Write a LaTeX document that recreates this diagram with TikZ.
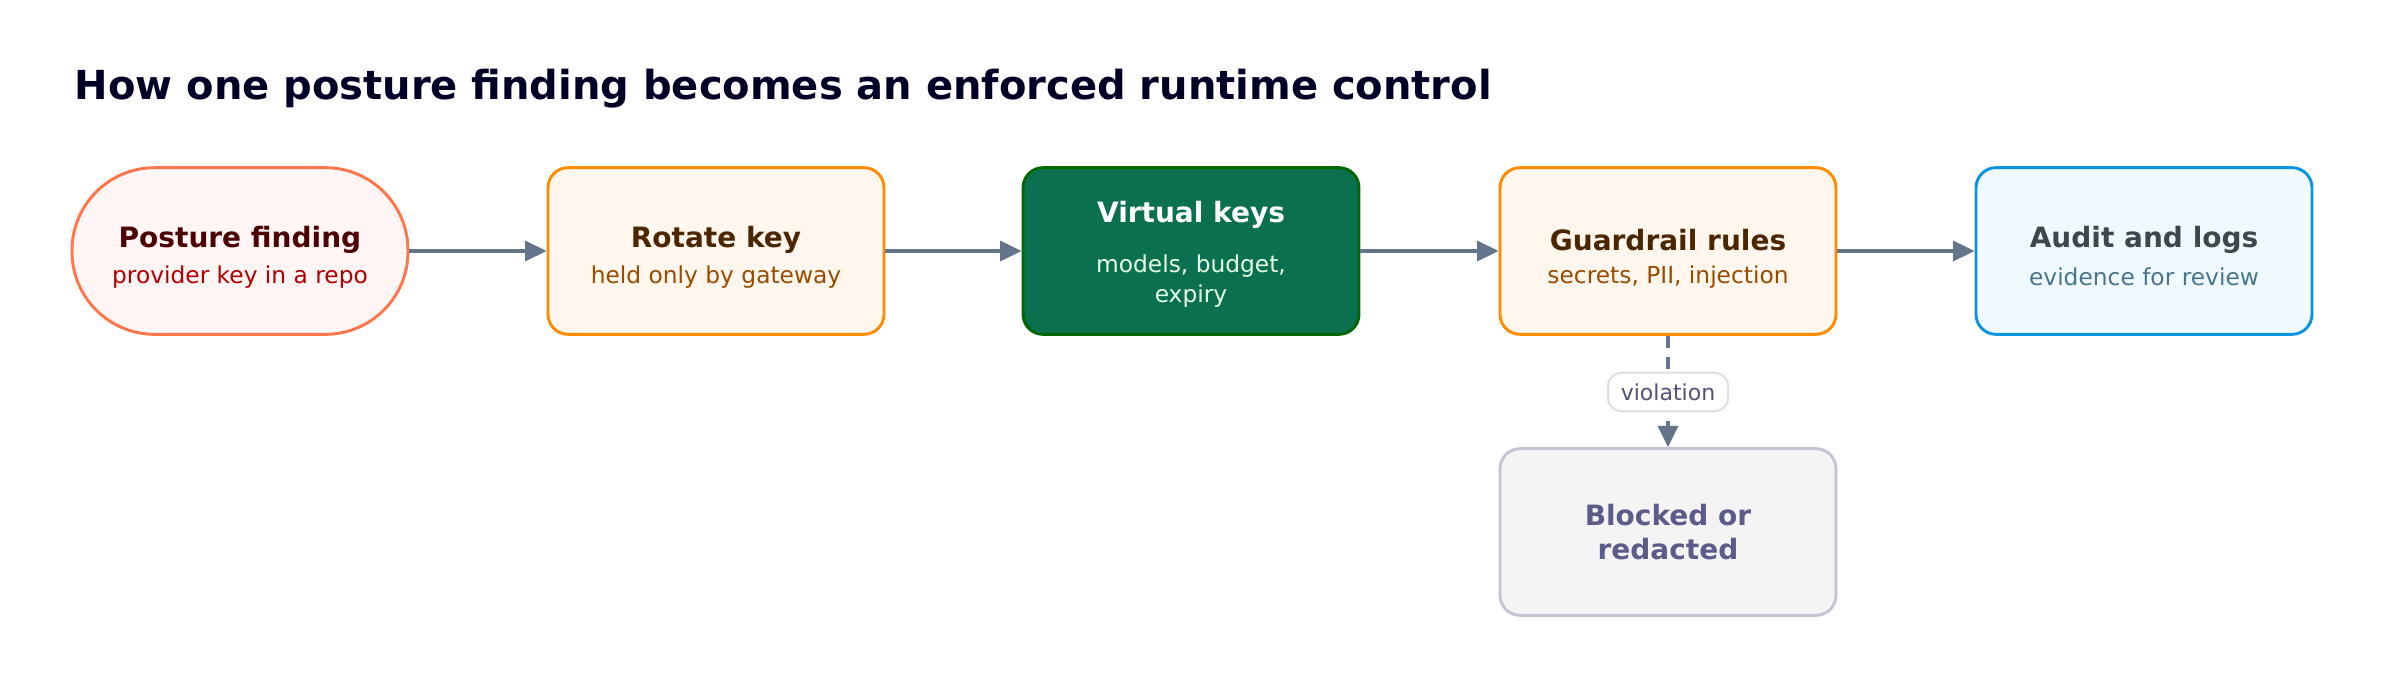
\documentclass[tikz,border=0pt]{standalone}
\usepackage{fontspec}
\setmainfont{DejaVu Sans}
\usetikzlibrary{arrows.meta}
\definecolor{arr}{HTML}{64748B}
\begin{document}
\begin{tikzpicture}[x=0.75pt,y=-0.75pt,
 box/.style={draw,line width=2.2pt,rounded corners=15pt,minimum width=252pt,minimum height=125pt,inner sep=0pt},
 ttl/.style={font=\bfseries\fontsize{21}{25}\selectfont},
 sub/.style={font=\fontsize{17.5}{23}\selectfont,align=center},
 con/.style={draw=arr,line width=2.4pt,-{Triangle[length=16pt,width=15pt]}}]
\useasboundingbox (0,0) rectangle (2384,688);
\node[anchor=west,font=\bfseries\fontsize{30}{36}\selectfont,text=black!85!blue] (title) at (70,89) {How one posture finding becomes an enforced runtime control};
\node[box,draw=red!55!orange!70,fill=red!4,rounded corners=62pt] (a) at (240,251) {};
\node[ttl,text=red!30!black] at (240,240) {Posture finding};
\node[sub,text=red!70!black] at (240,277) {provider key in a repo};
\node[box,draw=orange!90!yellow,fill=orange!7] (b) at (716,251) {};
\node[ttl,text=orange!30!black] at (716,240) {Rotate key};
\node[sub,text=orange!60!black] at (716,277) {held only by gateway};
\node[box,draw=green!40!black,fill={rgb,255:red,11;green,112;blue,80}] (c) at (1191,251) {};
\node[ttl,text=white] at (1191,215) {Virtual keys};
\node[sub,text=green!10] at (1191,281) {models, budget,\\expiry};
\node[box,draw=orange!90!yellow,fill=orange!7] (d) at (1668,251) {};
\node[ttl,text=orange!30!black] at (1668,240) {Guardrail rules};
\node[sub,text=orange!60!black] at (1668,277) {secrets, PII, injection};
\node[box,draw=cyan!80!blue,fill=cyan!6] (e) at (2144,251) {};
\node[ttl,text=cyan!20!black] at (2144,240) {Audit and logs};
\node[sub,text=cyan!50!black] at (2144,277) {evidence for review};
\node[box,draw=blue!15!gray!40,fill=blue!5!gray!8] (f) at (1668,532) {};
\node[ttl,text=blue!20!gray!90!black,align=center] at (1668,532) {Blocked or\\redacted};
\draw[con] (a) -- (b);
\draw[con] (b) -- (c);
\draw[con] (c) -- (d);
\draw[con] (d) -- (e);
\draw[con,dash pattern=on 9pt off 7pt] (d) -- (f);
\node[draw=gray!25,fill=white,rounded corners=10pt,line width=1.5pt,minimum width=90pt,minimum height=29pt,sub,text=blue!20!gray!80!black,font=\fontsize{16.5}{20}\selectfont] (v) at (1668,392) {violation};
\end{tikzpicture}
\end{document}
